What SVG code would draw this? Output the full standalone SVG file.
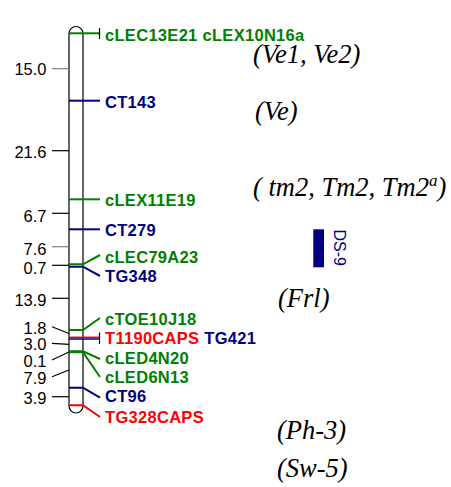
<svg xmlns="http://www.w3.org/2000/svg" width="451" height="487" viewBox="0 0 451 487">
<style>
.bg{fill:#fff}
.chr{fill:#fff;stroke:#000;stroke-width:1.2}
.tk{stroke:#000;stroke-width:1.2;fill:none}
.tkg{stroke:#808080;stroke-width:1.2;fill:none}
.num{font-family:"Liberation Sans",Arial,sans-serif;font-size:16.5px;fill:#000;text-anchor:end}
.lab{font-family:"Liberation Sans",Arial,sans-serif;font-size:16.5px;font-weight:bold;letter-spacing:0.3px}
.g{fill:#008000}.b{fill:#000080}.r{fill:#ff0000}
.mg{stroke:#008000;stroke-width:2;fill:none}
.mb{stroke:#000080;stroke-width:2;fill:none}
.mr{stroke:#ff0000;stroke-width:2;fill:none}
.it{font-family:"Liberation Serif","Times New Roman",serif;font-style:italic;font-size:26.5px;fill:#000}
.ds{font-family:"Liberation Sans",Arial,sans-serif;font-size:16px;fill:#000080}
</style>
<rect class="bg" x="0" y="0" width="451" height="487"/>
<g id="chromosome">
<rect class="chr" x="69" y="26.5" width="14" height="386.5" rx="7" ry="7"/>
</g>
<g id="scale">
<line class="tkg" x1="52" y1="68.7" x2="69" y2="68.7"/>
<text class="num" x="46.5" y="75.3">15.0</text>
<line class="tk" x1="52" y1="150.7" x2="69" y2="150.7"/>
<text class="num" x="46.5" y="158.3">21.6</text>
<line class="tk" x1="52" y1="213.3" x2="69" y2="213.3"/>
<text class="num" x="46.5" y="221.5">6.7</text>
<line class="tkg" x1="52" y1="246.7" x2="69" y2="246.7"/>
<text class="num" x="46.5" y="254.8">7.6</text>
<line class="tk" x1="52" y1="265.3" x2="69" y2="265.3"/>
<text class="num" x="46.5" y="273.5">0.7</text>
<line class="tk" x1="52" y1="298.3" x2="69" y2="298.3"/>
<text class="num" x="46.5" y="306">13.9</text>
<line class="tk" x1="52" y1="326.7" x2="69" y2="333.5"/>
<text class="num" x="46.5" y="333.5">1.8</text>
<line class="tk" x1="52" y1="343.3" x2="69" y2="344.3"/>
<text class="num" x="46.5" y="350">3.0</text>
<line class="tk" x1="52" y1="360" x2="69" y2="352"/>
<text class="num" x="46.5" y="366.7">0.1</text>
<line class="tk" x1="52" y1="376.7" x2="69" y2="370"/>
<text class="num" x="46.5" y="383.5">7.9</text>
<line class="tk" x1="52" y1="396.7" x2="69" y2="396.7"/>
<text class="num" x="46.5" y="403.5">3.9</text>
</g>
<g id="connectors">
<polyline class="mg" points="69,33.3 100,33.3"/>
<line class="tk" x1="99.5" y1="28" x2="99.5" y2="39"/>
<polyline class="mb" points="69,100.7 100,100.7"/>
<polyline class="mg" points="69,199.3 100,199.3"/>
<polyline class="mb" points="69,229.3 100,229.3"/>
<polyline class="mg" points="69,264.3 83,264.3 100,255"/>
<polyline class="mb" points="69,266.7 83,266.7 100,276"/>
<polyline class="mg" points="69,330 83,330 100,318"/>
<line x1="69" y1="337.3" x2="99.5" y2="337.3" stroke="#ff0000" stroke-width="1.5"/>
<line x1="69" y1="339" x2="99.5" y2="339" stroke="#000080" stroke-width="1.5"/>
<line class="tk" x1="99.5" y1="332.5" x2="99.5" y2="344"/>
<polyline class="mg" points="69,351.3 83,351.3 100,359"/>
<polyline class="mg" points="69,352.3 83,352.3 100,377"/>
<polyline class="mb" points="69,387.7 83,387.7 100,397.7"/>
<polyline class="mr" points="69,405.3 83,405.3 100,417"/>
</g>
<g id="markers">
<text class="lab g" x="105" y="40.7">cLEC13E21 cLEX10N16a</text>
<text class="lab b" x="105" y="107.7">CT143</text>
<text class="lab g" x="105" y="206">cLEX11E19</text>
<text class="lab b" x="105" y="236">CT279</text>
<text class="lab g" x="105" y="262.7">cLEC79A23</text>
<text class="lab b" x="105" y="281.7">TG348</text>
<text class="lab g" x="105" y="325">cTOE10J18</text>
<text class="lab" x="105" y="344.3"><tspan class="r">T1190CAPS</tspan> <tspan class="b">TG421</tspan></text>
<text class="lab g" x="105" y="364">cLED4N20</text>
<text class="lab g" x="105" y="383.3">cLED6N13</text>
<text class="lab b" x="105" y="401.7">CT96</text>
<text class="lab r" x="105" y="422.7">TG328CAPS</text>
</g>
<g id="genes">
<text class="it" x="253" y="63">(Ve1, Ve2)</text>
<text class="it" x="255" y="120">(Ve)</text>
<text class="it" x="253" y="196">( tm2, Tm2, Tm2<tspan font-size="17" dy="-10">a</tspan><tspan dy="10">)</tspan></text>
<text class="it" x="278" y="307">(Frl)</text>
<text class="it" x="277" y="439">(Ph-3)</text>
<text class="it" x="277" y="477">(Sw-5)</text>
</g>
<g id="ds9">
<rect x="313.3" y="229.3" width="10.7" height="38" fill="#000080"/>
<text class="ds" transform="translate(333.5,229.5) rotate(90)">DS-9</text>
</g>
</svg>
